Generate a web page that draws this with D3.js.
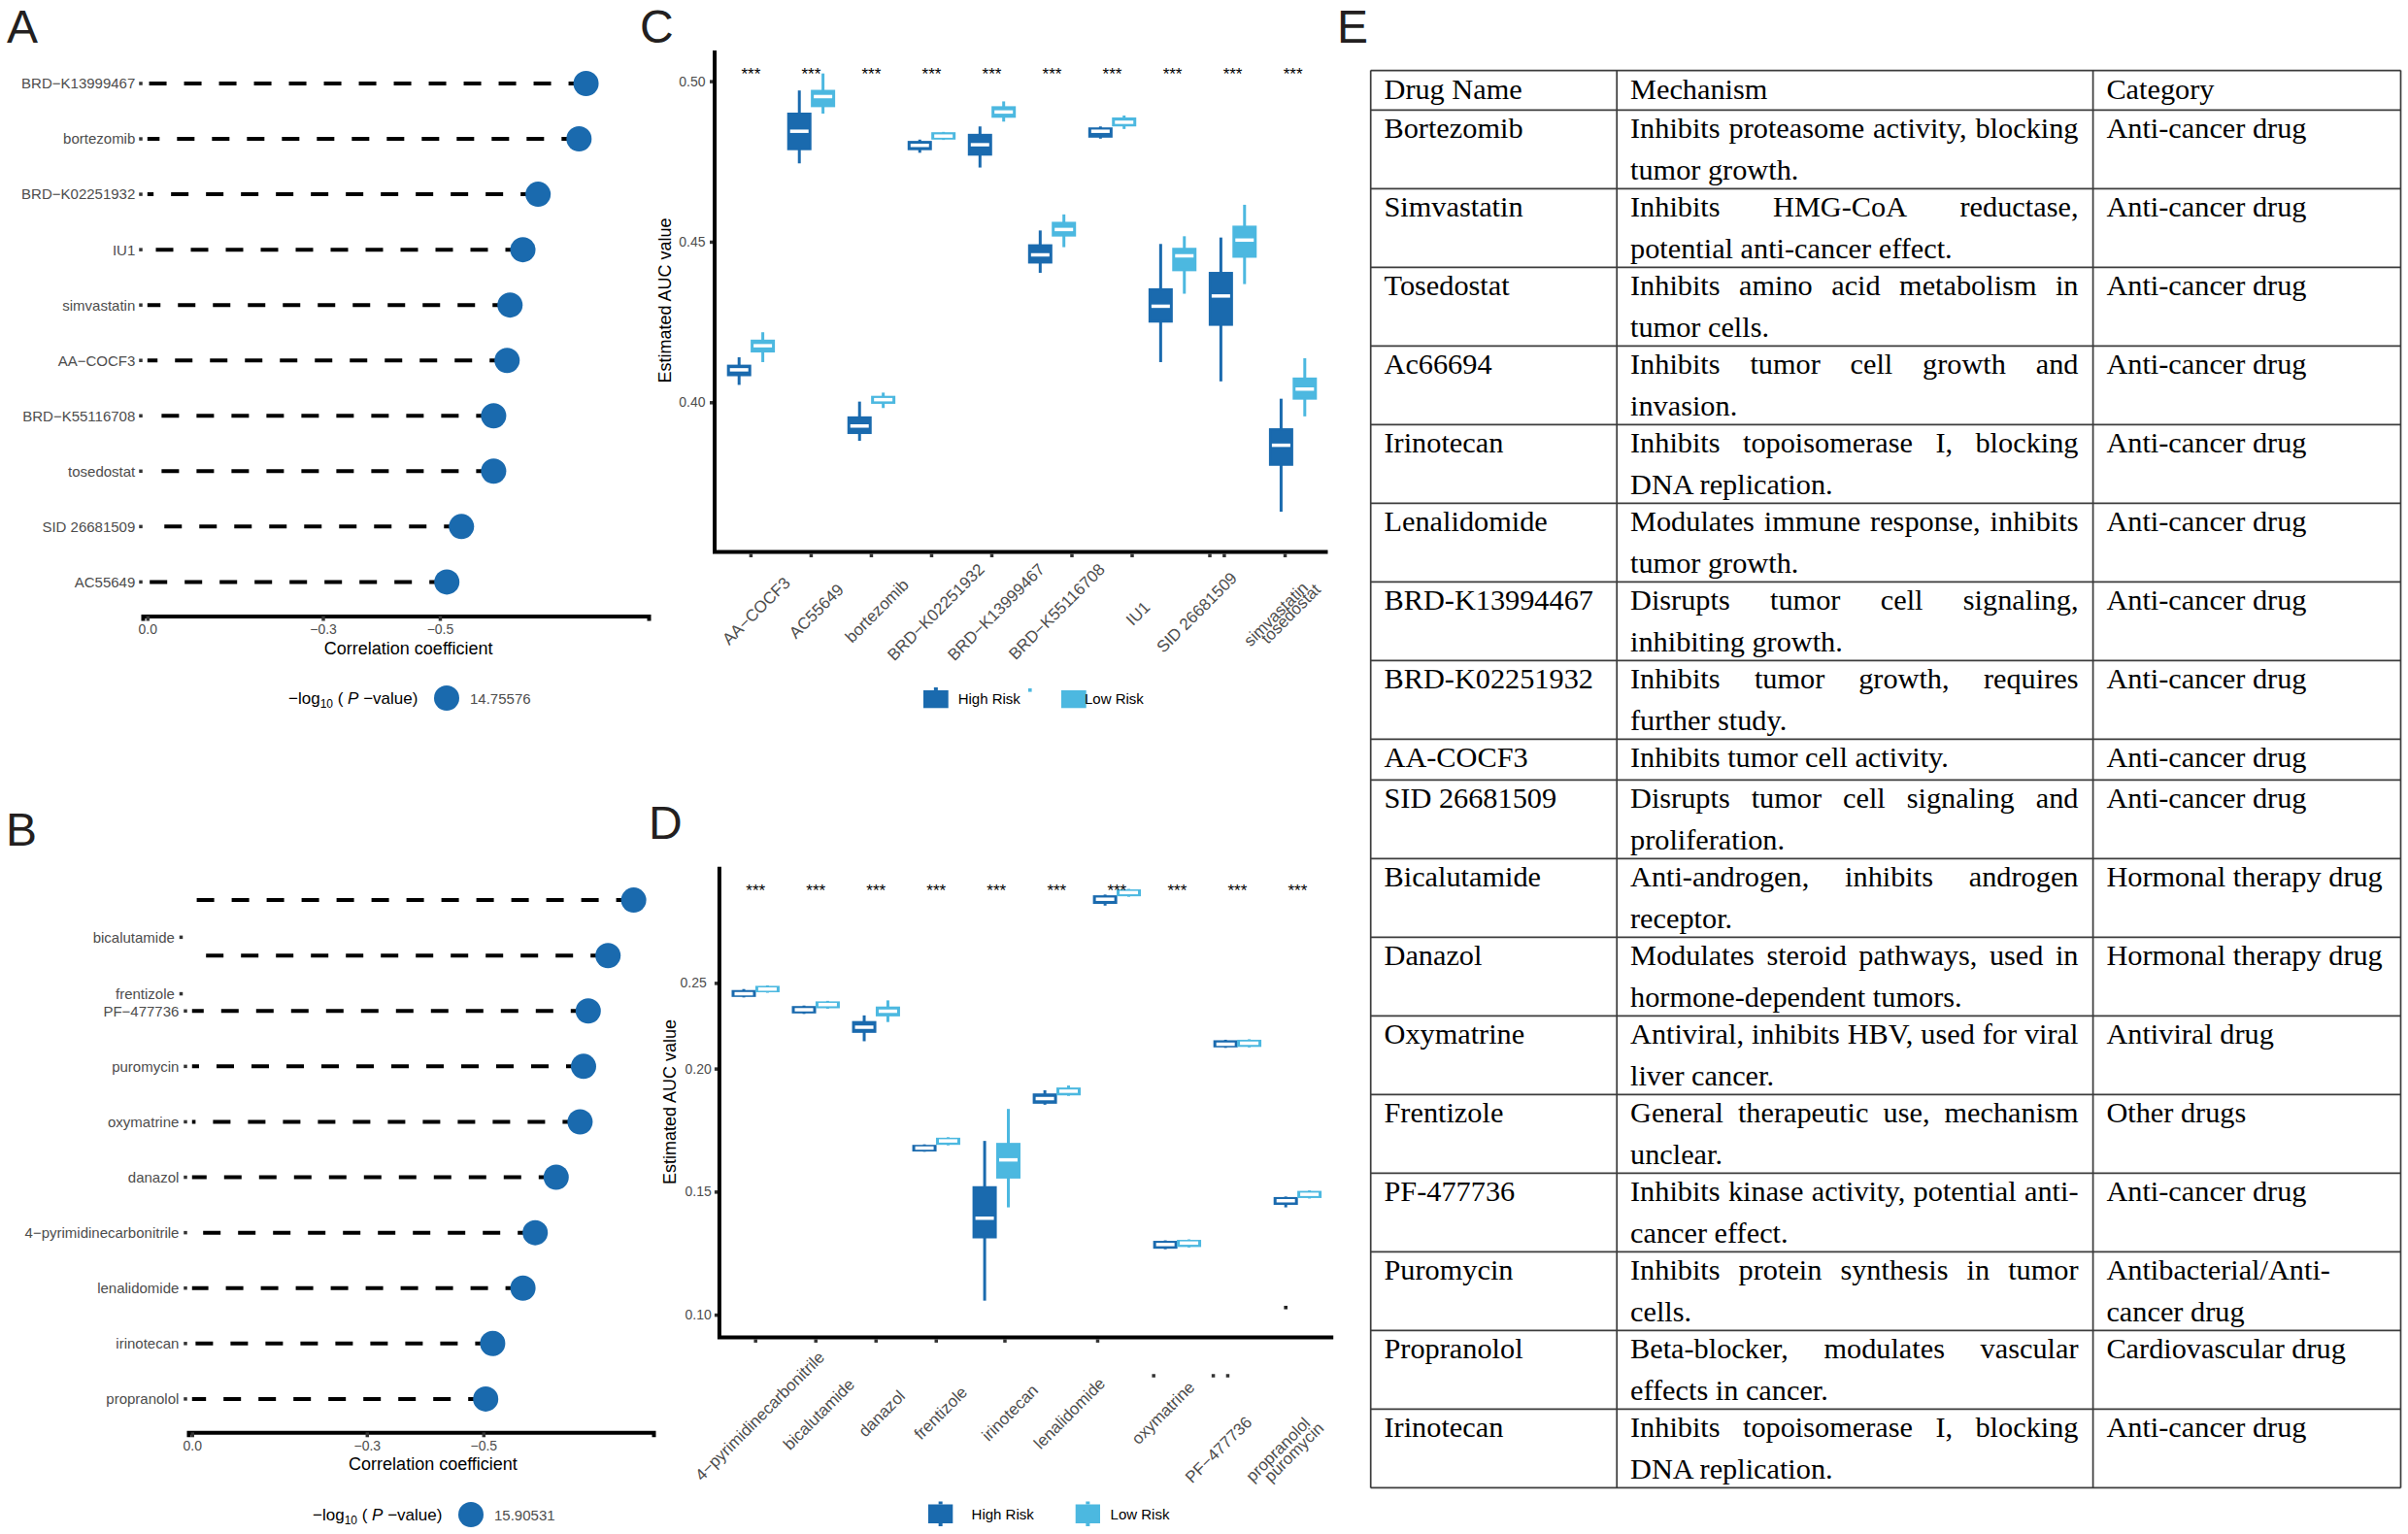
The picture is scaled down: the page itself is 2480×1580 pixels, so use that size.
<!DOCTYPE html>
<html><head><meta charset="utf-8">
<script src="https://cdn.jsdelivr.net/npm/d3@7"></script>
<style>body{margin:0;background:#fff}svg{display:block}</style>
</head><body>
<svg id="fig" width="2480" height="1580"></svg>
<script>
// ================= DATA =================
// Panel A
const aDrugs = ["BRD−K13999467","bortezomib","BRD−K02251932","IU1","simvastatin","AA−COCF3","BRD−K55116708","tosedostat","SID 26681509","AC55649"];
const aCorr  = [-0.750,-0.738,-0.668,-0.642,-0.620,-0.615,-0.592,-0.592,-0.537,-0.512];
const aLogP  = "14.75576";
// Panel B
const bCorr  = [-0.758,-0.714,-0.680,-0.672,-0.666,-0.625,-0.589,-0.568,-0.516,-0.504];
const bLabels = ["bicalutamide","frentizole","PF−477736","puromycin","oxymatrine","danazol","4−pyrimidinecarbonitrile","lenalidomide","irinotecan","propranolol"];
const bLabelRows = [0.67,1.69,2,3,4,5,6,7,8,9];
const bLogP  = "15.90531";
const corrTicks = [0,-0.3,-0.5];
// Panel C  [lower whisker, Q1, median, Q3, upper whisker]
const cDrugs = ["AA−COCF3","AC55649","bortezomib","BRD−K02251932","BRD−K13999467","BRD−K55116708","IU1","SID 26681509","simvastatin","tosedostat"];
const cHigh = [[0.4054,0.4081,0.4101,0.4117,0.4140],[0.4744,0.4785,0.4844,0.4902,0.4971],[0.3880,0.3901,0.3926,0.3956,0.4002],[0.4777,0.4785,0.4800,0.4814,0.4818],[0.4731,0.4768,0.4802,0.4836,0.4859],[0.4403,0.4432,0.4459,0.4492,0.4535],[0.4821,0.4824,0.4844,0.4856,0.4859],[0.4125,0.4248,0.4299,0.4355,0.4493],[0.4065,0.4238,0.4331,0.4406,0.4513],[0.3659,0.3802,0.3866,0.3919,0.4011]];
const cLow  = [[0.4125,0.4155,0.4176,0.4195,0.4218],[0.4899,0.4919,0.4952,0.4973,0.5024],[0.3982,0.3995,0.4008,0.4020,0.4030],[0.4817,0.4818,0.4829,0.4841,0.4842],[0.4874,0.4886,0.4904,0.4922,0.4937],[0.4483,0.4516,0.4538,0.4562,0.4585],[0.4851,0.4859,0.4872,0.4887,0.4893],[0.4338,0.4408,0.4456,0.4481,0.4517],[0.4368,0.4450,0.4505,0.4550,0.4615],[0.3956,0.4008,0.4041,0.4077,0.4137]];
const cSig = ["***","***","***","***","***","***","***","***","***","***"];
const cYTicks = [0.40,0.45,0.50];
const cYTickLabels = ["0.40","0.45","0.50"];
// Panel D
const dDrugs = ["4−pyrimidinecarbonitrile","bicalutamide","danazol","frentizole","irinotecan","lenalidomide","oxymatrine","PF−477736","propranolol","puromycin"];
const dHigh = [[0.2289,0.2291,0.2304,0.2319,0.2323],[0.2222,0.2224,0.2239,0.2254,0.2256],[0.2111,0.2145,0.2168,0.2193,0.2216],[0.1662,0.1663,0.1677,0.1690,0.1692],[0.1057,0.1310,0.1392,0.1522,0.1706],[0.1853,0.1857,0.1878,0.1899,0.1912],[0.2662,0.2669,0.2688,0.2704,0.2707],[0.1266,0.1268,0.1285,0.1300,0.1302],[0.2084,0.2086,0.2099,0.2115,0.2117],[0.1436,0.1446,0.1463,0.1478,0.1480]];
const dLow  = [[0.2308,0.2310,0.2323,0.2336,0.2338],[0.2243,0.2245,0.2260,0.2273,0.2275],[0.2189,0.2212,0.2233,0.2252,0.2277],[0.1688,0.1690,0.1706,0.1719,0.1721],[0.1436,0.1553,0.1629,0.1698,0.1836],[0.1889,0.1891,0.1908,0.1923,0.1931],[0.2698,0.2700,0.2715,0.2728,0.2730],[0.1273,0.1275,0.1291,0.1304,0.1306],[0.2086,0.2088,0.2103,0.2117,0.2119],[0.1472,0.1474,0.1489,0.1503,0.1505]];
const dOutlierGroup = [9];
const dOutlierValue = [0.1029];
const dSig = ["***","***","***","***","***","***","***","***","***","***"];
const dYTicks = [0.10,0.15,0.20,0.2348];
const dYTickLabels = ["0.10","0.15","0.20","0.25"];
const seriesNames = ["High Risk","Low Risk"];
// Panel E
const tableHeader = ["Drug Name","Mechanism","Category"];
const tableDrug = ["Bortezomib","Simvastatin","Tosedostat","Ac66694","Irinotecan","Lenalidomide","BRD-K13994467","BRD-K02251932","AA-COCF3","SID 26681509","Bicalutamide","Danazol","Oxymatrine","Frentizole","PF-477736","Puromycin","Propranolol","Irinotecan"];
const tableMech = [
 ["Inhibits proteasome activity, blocking","tumor growth."],
 ["Inhibits HMG-CoA reductase,","potential anti-cancer effect."],
 ["Inhibits amino acid metabolism in","tumor cells."],
 ["Inhibits tumor cell growth and","invasion."],
 ["Inhibits topoisomerase I, blocking","DNA replication."],
 ["Modulates immune response, inhibits","tumor growth."],
 ["Disrupts tumor cell signaling,","inhibiting growth."],
 ["Inhibits tumor growth, requires","further study."],
 ["Inhibits tumor cell activity."],
 ["Disrupts tumor cell signaling and","proliferation."],
 ["Anti-androgen, inhibits androgen","receptor."],
 ["Modulates steroid pathways, used in","hormone-dependent tumors."],
 ["Antiviral, inhibits HBV, used for viral","liver cancer."],
 ["General therapeutic use, mechanism","unclear."],
 ["Inhibits kinase activity, potential anti-","cancer effect."],
 ["Inhibits protein synthesis in tumor","cells."],
 ["Beta-blocker, modulates vascular","effects in cancer."],
 ["Inhibits topoisomerase I, blocking","DNA replication."]];
const tableCat = [["Anti-cancer drug"],["Anti-cancer drug"],["Anti-cancer drug"],["Anti-cancer drug"],["Anti-cancer drug"],["Anti-cancer drug"],["Anti-cancer drug"],["Anti-cancer drug"],["Anti-cancer drug"],["Anti-cancer drug"],["Hormonal therapy drug"],["Hormonal therapy drug"],["Antiviral drug"],["Other drugs"],["Anti-cancer drug"],["Antibacterial/Anti-","cancer drug"],["Cardiovascular drug"],["Anti-cancer drug"]];

// ================= STYLE / LAYOUT =================
const SANS = "'Liberation Sans', Arial, Helvetica, sans-serif";
const SERIF = "'Liberation Serif', 'Times New Roman', serif";
const HIGH = "#1a6aae", LOW = "#4cb8e0", GRAY = "#4d4d4d";
const cLabelNudge = [[0,0],[-7,7],[-2,2],[14,-14],[14,-14],[14,-14],[-1.5,25],[26,-5],[37,5],[-12,7]];
const dLabelNudge = [[35,-33],[4,-5],[-6,7],[-4,3],[7,1],[14,-6],[44,-2],[41,34],[39,35],[-9,40]];
const cTickIdx = [0,1,2,3,4,5.33,6.33,7.62,7.86,8.87];
const dTickIdx = [0,1,2,3,4.14,5.68];
const dFloatTickIdx = [6.61,7.6,7.84];

const svg = d3.select("#fig");
svg.append("rect").attr("width",2480).attr("height",1580).attr("fill","#fff");

function letter(t,x,y){ svg.append("text").attr("x",x).attr("y",y).text(t).attr("fill","#231f20").style("font",`48px ${SANS}`); }
letter("A",7,44); letter("C",659,44); letter("E",1377,44); letter("B",6,871); letter("D",668,864);

// ---------- lollipop panels ----------
function lollipop(o){
  const g = svg.append("g");
  const x = d3.scaleLinear().domain(o.xDomain).range(o.xRange);
  const y = d3.scaleLinear().domain([0,o.values.length-1]).range(o.yRange);
  g.selectAll(".seg").data(o.values).join("line")
    .attr("x1",d=>x(d)).attr("x2",x(0)).attr("y1",(d,i)=>y(i)).attr("y2",(d,i)=>y(i))
    .attr("stroke","#000").attr("stroke-width",4).attr("stroke-dasharray","18 18");
  g.selectAll(".dot").data(o.values).join("circle")
    .attr("cx",d=>x(d)).attr("cy",(d,i)=>y(i)).attr("r",13).attr("fill",HIGH);
  g.selectAll(".ylab").data(o.labels).join("text")
    .attr("x",(d,i)=>o.labelRight+(o.labelDx[i]||0)).attr("y",(d,i)=>y(o.labelRows[i])).attr("dy","0.36em")
    .attr("text-anchor","end").attr("fill",GRAY).style("font",`15px ${SANS}`).text(d=>d);
  g.selectAll(".ytk").data(o.labels).join("rect")
    .attr("x",(d,i)=>o.tickX+(o.labelDx[i]||0)-1.75).attr("y",(d,i)=>y(o.labelRows[i])-1.75)
    .attr("width",3.5).attr("height",3.5).attr("fill","#333");
  const ax = g.append("g").attr("transform",`translate(0,${o.axisY})`)
    .call(d3.axisBottom(x).tickValues(corrTicks).tickFormat(d3.format(".1f")).tickSizeOuter(0).tickSize(5).tickPadding(4));
  ax.select(".domain").attr("stroke","#000").attr("stroke-width",4);
  ax.selectAll(".tick line").attr("stroke","#333").attr("stroke-width",3.5);
  ax.selectAll(".tick text").attr("fill",GRAY).style("font",`14px ${SANS}`);
  g.append("text").attr("x",o.titleX).attr("y",o.axisY+39).attr("text-anchor","middle")
    .style("font",`18px ${SANS}`).attr("fill","#000").text("Correlation coefficient");
  // legend
  const lt = g.append("text").attr("x",o.legX).attr("y",o.legY+6).style("font",`17px ${SANS}`).attr("fill","#000");
  lt.append("tspan").text("−log");
  lt.append("tspan").attr("dy",4).style("font-size","12px").text("10");
  lt.append("tspan").attr("dy",-4).text(" ( ");
  lt.append("tspan").style("font-style","italic").text("P");
  lt.append("tspan").text(" −value)");
  g.append("circle").attr("cx",o.legCX).attr("cy",o.legY).attr("r",13).attr("fill",HIGH);
  g.append("text").attr("x",o.legCX+24).attr("y",o.legY+5.5).style("font",`15px ${SANS}`).attr("fill",GRAY).text(o.logp);
}
lollipop({values:aCorr,labels:aDrugs,labelRows:d3.range(aDrugs.length),labelDx:[],xDomain:[0.008,-0.857],xRange:[147,668],
  yRange:[86,599.4],labelRight:139.3,tickX:145,axisY:634.5,titleX:420.7,legX:297,legY:719,legCX:460,logp:aLogP});
lollipop({values:bCorr,labels:bLabels,labelRows:bLabelRows,labelDx:[-4.5,-4.5],xDomain:[0.0063,-0.792],xRange:[194,673],
  yRange:[927.1,1440.9],labelRight:184.4,tickX:191,axisY:1475.3,titleX:446,legX:322,legY:1560,legCX:485,logp:bLogP});

// ---------- box panels ----------
function boxPanel(o){
  const g = svg.append("g");
  const x = d3.scaleLinear().domain([0,9]).range(o.xCenters);
  const y = d3.scaleLinear().domain(o.yDomain).range(o.yRange);
  const bw = 25, off = 12.2;
  [[o.high,HIGH,-off],[o.low,LOW,off]].forEach(([arr,col,of])=>{
    const s = g.append("g");
    s.selectAll(".wh").data(arr).join("line")
      .attr("x1",(d,i)=>x(i)+of).attr("x2",(d,i)=>x(i)+of).attr("y1",d=>y(d[0])).attr("y2",d=>y(d[4]))
      .attr("stroke",col).attr("stroke-width",3);
    s.selectAll(".bx").data(arr).join("rect")
      .attr("x",(d,i)=>x(i)+of-bw/2+1.25).attr("width",bw-2.5)
      .attr("y",d=>y(d[3])+1.25).attr("height",d=>Math.max(0.5,y(d[1])-y(d[3])-2.5))
      .attr("fill",col).attr("stroke",col).attr("stroke-width",2.5);
    s.selectAll(".md").data(arr).join("line")
      .attr("x1",(d,i)=>x(i)+of-bw/2+3).attr("x2",(d,i)=>x(i)+of+bw/2-3).attr("y1",d=>y(d[2])).attr("y2",d=>y(d[2]))
      .attr("stroke","#fff").attr("stroke-width",3.5);
  });
  (o.outG||[]).forEach((gi,k)=>{
    g.append("rect").attr("x",x(gi)-off-1.8).attr("y",y(o.outV[k])-1.8).attr("width",3.6).attr("height",3.6).attr("fill","#222");
  });
  // stars
  g.selectAll(".sig").data(o.sig).join("text").attr("x",(d,i)=>x(i)).attr("y",o.top+30).attr("text-anchor","middle")
    .style("font",`17px ${SANS}`).attr("fill","#000").text(d=>d);
  // y axis ticks
  const ay = g.append("g").attr("transform",`translate(${o.axisX},0)`)
    .call(d3.axisLeft(y).tickValues(o.yTicks).tickFormat((d,i)=>o.yTickLabels[i]).tickSizeOuter(0).tickSize(5).tickPadding(o.tickPad));
  ay.select(".domain").remove();
  ay.selectAll(".tick line").attr("stroke","#333").attr("stroke-width",3.5);
  ay.selectAll(".tick text").attr("fill",GRAY).style("font",`14px ${SANS}`);
  if(o.yLabDx) ay.selectAll(".tick text").attr("dx",(d,i)=>o.yLabDx[i]||0);
  // axis lines
  g.append("path").attr("d",`M${o.axisX},${o.top}V${o.axisY}H${o.right}`).attr("fill","none").attr("stroke","#000").attr("stroke-width",4);
  // x tick marks
  g.selectAll(".xt").data(o.tickIdx).join("rect").attr("x",d=>x(d)-1.75).attr("y",o.axisY+2).attr("width",3.5).attr("height",3.5).attr("fill","#333");
  g.selectAll(".xtf").data(o.floatIdx||[]).join("rect").attr("x",d=>x(d)-1.75).attr("y",o.floatY-1.75).attr("width",3.5).attr("height",3.5).attr("fill","#333");
  // x labels
  g.selectAll(".xl").data(o.drugs).join("text")
    .attr("transform",(d,i)=>`translate(${x(i)+o.labDx+o.nudge[i][0]+7},${o.labY+o.nudge[i][1]+7}) rotate(-45)`)
    .attr("text-anchor","end").attr("fill",GRAY).style("font",`17px ${SANS}`).text(d=>d);
  // y title
  g.append("text").attr("transform",`translate(${o.titleX},${o.titleY}) rotate(-90)`).attr("dy","0.35em").attr("text-anchor","middle")
    .style("font",`18px ${SANS}`).attr("fill","#000").text("Estimated AUC value");
  // legend
  const L = o.leg;
  [[HIGH,L.k1,L.t1,seriesNames[0],L.stub1],[LOW,L.k2,L.t2,seriesNames[1],L.stub2]].forEach(([col,k,tx,nm,stub])=>{
    g.append("rect").attr("x",k).attr("y",L.y0).attr("width",L.kw).attr("height",L.kh).attr("fill",col);
    if(stub){ g.append("rect").attr("x",k+L.kw/2-2).attr("y",L.y0-3).attr("width",4).attr("height",3).attr("fill",col);
      if(L.stubBottom) g.append("rect").attr("x",k+L.kw/2-2).attr("y",L.y0+L.kh).attr("width",4).attr("height",3).attr("fill",col); }
    g.append("text").attr("x",tx).attr("y",L.ty).style("font",`15px ${SANS}`).attr("fill","#000").text(nm);
  });
  if(L.dot) g.append("rect").attr("x",L.dot[0]).attr("y",L.dot[1]).attr("width",3.6).attr("height",3.6).attr("fill",LOW);
}
boxPanel({drugs:cDrugs,high:cHigh,low:cLow,sig:cSig,xCenters:[773.4,1331.6],yDomain:[0.40,0.50],yRange:[414.3,83.6],
  axisX:736,axisY:568.5,top:52,right:1367.5,yTicks:cYTicks,yTickLabels:cYTickLabels,tickPad:4.5,
  tickIdx:cTickIdx,labDx:34.5,labY:594.5,nudge:cLabelNudge,titleX:684.4,titleY:309.5,
  leg:{y0:711,kw:25.7,kh:18.3,k1:951,k2:1093,t1:986.7,t2:1117,ty:725,stub1:true,stub2:false,dot:[1059,709]}});
boxPanel({drugs:dDrugs,high:dHigh,low:dLow,sig:dSig,xCenters:[778.2,1336.4],yDomain:[0.10,0.20],yRange:[1354.1,1100.6],
  axisX:740.9,axisY:1377.4,top:892.7,right:1373.2,yTicks:dYTicks,yTickLabels:dYTickLabels,tickPad:3.2,yLabDx:[0,0,0,-5],
  tickIdx:dTickIdx,floatIdx:dFloatTickIdx,floatY:1417,labDx:30,labY:1425,nudge:dLabelNudge,titleX:689.2,titleY:1135,
  outG:dOutlierGroup,outV:dOutlierValue,
  leg:{y0:1549.5,kw:25.3,kh:19.5,k1:956,k2:1107.7,t1:1000.6,t2:1143.6,ty:1565,stub1:true,stub2:true,stubBottom:true}});

// ---------- table ----------
(function(){
  const g = svg.append("g").style("font-family",SERIF).style("font-size","30.3px").attr("fill","#000");
  const cols = [1411.7,1665.2,2155.6,2472.5];
  const pad = 13.8, mechW = 461.5;
  const rows = [{cells:[[tableHeader[0]],[tableHeader[1]],[tableHeader[2]]],h:40.7,header:true}];
  tableDrug.forEach((d,i)=>{
    const n = Math.max(tableMech[i].length,tableCat[i].length);
    rows.push({cells:[[d],tableMech[i],tableCat[i]],h:n>1?81.0:42.1});
  });
  let top = 72.6; const lines = [top];
  rows.forEach(r=>{
    r.cells.forEach((cell,ci)=>{
      cell.forEach((ln,li)=>{
        const yb = top + 29 + li*42.6;
        const x0 = cols[ci]+pad;
        const justify = ci===1 && !r.header && cell.length>1 && li<cell.length-1;
        if(justify){
          const t = g.append("text").attr("y",yb);
          const words = ln.split(" ");
          const spans = words.map(w=>t.append("tspan").text(w));
          const ws = spans.map(s=>s.node().getComputedTextLength());
          const gap = (mechW - d3.sum(ws))/(words.length-1);
          let cx = x0;
          spans.forEach((s,k)=>{ s.attr("x",cx); cx += ws[k]+gap; });
        } else {
          g.append("text").attr("x",x0).attr("y",yb).text(ln);
        }
      });
    });
    top += r.h; lines.push(top);
  });
  const bottom = top;
  const lg = svg.append("g").attr("stroke","#3c3c3c").attr("stroke-width",1.7);
  lg.selectAll(".h").data(lines).join("line").attr("x1",cols[0]).attr("x2",cols[3]).attr("y1",d=>d).attr("y2",d=>d);
  lg.selectAll(".v").data(cols).join("line").attr("x1",d=>d).attr("x2",d=>d).attr("y1",72.6).attr("y2",bottom);
})();
</script>
</body></html>
